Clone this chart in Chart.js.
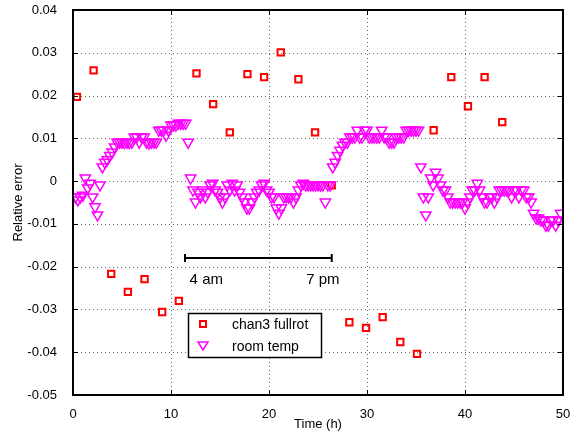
<!DOCTYPE html>
<html>
<head>
<meta charset="utf-8">
<script src="https://cdn.jsdelivr.net/npm/chart.js@4/dist/chart.umd.min.js"></script>
<style>
  html, body { margin: 0; padding: 0; background: #fff; }
  #wrap { width: 571px; height: 434px; }
</style>
</head>
<body>
<div id="wrap"><canvas id="errChart" width="571" height="434"></canvas></div>
<script>
// chan3 fullrot: relative error per run (hours)
const chanTime = [0.4, 2.1, 3.9, 5.6, 7.3, 9.1, 10.8, 12.6, 14.3, 16.0, 17.8, 19.5, 21.2,
    23.0, 24.7, 26.4, 28.2, 29.9, 31.6, 33.4, 35.1, 36.8, 38.6, 40.3, 42.0, 43.8];
const chanErr = [0.0197, 0.0259, -0.0217, -0.0259, -0.0229, -0.0306, -0.0280, 0.0252, 0.0180,
    0.0114, 0.0250, 0.0243, 0.0301, 0.0238, 0.0114, -0.0010, -0.0330, -0.0343, -0.0318,
    -0.0376, -0.0404, 0.0119, 0.0243, 0.0175, 0.0243, 0.0138];

// room temp (scaled)
const roomTime = [
    0.25, 0.5, 0.75, 1.0, 1.25, 1.5, 1.75, 2.0, 2.25, 2.5, 2.75, 3.0, 3.25, 3.5, 3.75, 4.0, 4.25, 4.5, 4.75, 5.0,
    5.25, 5.5, 5.75, 6.0, 6.25, 6.5, 6.75, 7.0, 7.25, 7.5, 7.75, 8.0, 8.25, 8.5, 8.75, 9.0, 9.25, 9.5, 9.75, 10.0,
    10.25, 10.5, 10.75, 11.0, 11.25, 11.5, 11.75, 12.0, 12.25, 12.5, 12.75, 13.0, 13.25, 13.5, 13.75, 14.0, 14.25, 14.5, 14.75, 15.0,
    15.25, 15.5, 15.75, 16.0, 16.25, 16.5, 16.75, 17.0, 17.25, 17.5, 17.75, 18.0, 18.25, 18.5, 18.75, 19.0, 19.25, 19.5, 19.75, 20.0,
    20.25, 20.5, 20.75, 21.0, 21.25, 21.5, 21.75, 22.0, 22.25, 22.5, 22.75, 23.0, 23.25, 23.5, 23.75, 24.0, 24.25, 24.5, 24.75, 25.0,
    25.25, 25.5, 25.75, 26.0, 26.25, 26.5, 26.75, 27.0, 27.25, 27.5, 27.75, 28.0, 28.25, 28.5, 28.75, 29.0, 29.25, 29.5, 29.75, 30.0,
    30.25, 30.5, 30.75, 31.0, 31.25, 31.5, 31.75, 32.0, 32.25, 32.5, 32.75, 33.0, 33.25, 33.5, 33.75, 34.0, 34.25, 34.5, 34.75, 35.0,
    35.25, 35.5, 35.75, 36.0, 36.25, 36.5, 36.75, 37.0, 37.25, 37.5, 37.75, 38.0, 38.25, 38.5, 38.75, 39.0, 39.25, 39.5, 39.75, 40.0,
    40.25, 40.5, 40.75, 41.0, 41.25, 41.5, 41.75, 42.0, 42.25, 42.5, 42.75, 43.0, 43.25, 43.5, 43.75, 44.0, 44.25, 44.5, 44.75, 45.0,
    45.25, 45.5, 45.75, 46.0, 46.25, 46.5, 46.75, 47.0, 47.25, 47.5, 47.75, 48.0, 48.25, 48.5, 48.75, 49.0, 49.25, 49.5, 49.75
];
const roomErr = [
    -0.0037, -0.0044, -0.0037, -0.0033, 0.0007, -0.0016, -0.0005, -0.0037, -0.0060, -0.0079,
    -0.0009, 0.0033, 0.0044, 0.0050, 0.0060, 0.0068, 0.0080, 0.0091, 0.0091, 0.0091,
    0.0090, 0.0091, 0.0090, 0.0091, 0.0103, 0.0103, 0.0091, 0.0103, 0.0103, 0.0091,
    0.0089, 0.0091, 0.0091, 0.0091, 0.0119, 0.0119, 0.0119, 0.0107, 0.0119, 0.0131,
    0.0131, 0.0131, 0.0135, 0.0135, 0.0135, 0.0135, 0.0091, 0.0007, -0.0021, -0.0049,
    -0.0026, -0.0037, -0.0021, -0.0037, -0.0026, -0.0009, -0.0005, -0.0021, -0.0026, -0.0037,
    -0.0049, -0.0037, -0.0009, -0.0021, -0.0005, -0.0021, -0.0009, -0.0026, -0.0037, -0.0049,
    -0.0063, -0.0063, -0.0049, -0.0037, -0.0026, -0.0021, -0.0009, -0.0005, -0.0021, -0.0026,
    -0.0037, -0.0037, -0.0063, -0.0075, -0.0063, -0.0037, -0.0037, -0.0037, -0.0037, -0.0049,
    -0.0037, -0.0021, -0.0009, -0.0005, -0.0009, -0.0009, -0.0009, -0.0009, -0.0009, -0.0009,
    -0.0009, -0.0009, -0.0049, -0.0009, -0.0009, 0.0033, 0.0044, 0.0060, 0.0072, 0.0084,
    0.0091, 0.0091, 0.0103, 0.0103, 0.0103, 0.0119, 0.0103, 0.0103, 0.0119, 0.0119,
    0.0103, 0.0103, 0.0103, 0.0103, 0.0103, 0.0119, 0.0103, 0.0103, 0.0091, 0.0091,
    0.0091, 0.0103, 0.0103, 0.0103, 0.0103, 0.0119, 0.0119, 0.0119, 0.0119, 0.0119,
    0.0119, 0.0033, -0.0037, -0.0079, -0.0037, 0.0007, -0.0009, 0.0021, 0.0007, -0.0009,
    -0.0021, -0.0021, -0.0037, -0.0049, -0.0049, -0.0049, -0.0049, -0.0049, -0.0049, -0.0063,
    -0.0049, -0.0037, -0.0021, -0.0021, -0.0005, -0.0021, -0.0037, -0.0049, -0.0049, -0.0037,
    -0.0037, -0.0049, -0.0037, -0.0021, -0.0021, -0.0021, -0.0021, -0.0021, -0.0037, -0.0021,
    -0.0021, -0.0037, -0.0021, -0.0021, -0.0037, -0.0037, -0.0049, -0.0075, -0.0086, -0.0086,
    -0.0091, -0.0091, -0.0103, -0.0103, -0.0091, -0.0091, -0.0103, -0.0091, -0.0075
];

const seriesNames = ['chan3 fullrot', 'room temp'];
const xLabel = 'Time (h)';
const yLabel = 'Relative error';

// the day marker bar: 4 am .. 7 pm
const dayBar = { from: 11.43, to: 26.4, level: -0.018 };
const dayTexts = [
    { text: '4 am', x: 11.9, y: -0.0232 },
    { text: '7 pm', x: 23.8, y: -0.0232 }
];

const FONT = '"Liberation Sans", Arial, Helvetica, sans-serif';
const RED = '#ff0000';
const MAGENTA = '#ff00ff';

function toPoints(xs, ys) {
    return xs.map((x, i) => ({ x: x, y: ys[i] }));
}

// dotted grid under the markers
const dottedGrid = {
    id: 'dottedGrid',
    beforeDatasetsDraw(chart) {
        const c = chart.ctx;
        const a = chart.chartArea;
        const xs = chart.scales.x;
        const ys = chart.scales.y;
        c.save();
        c.strokeStyle = 'rgba(0,0,0,0.6)';
        c.lineWidth = 1;
        c.setLineDash([1, 3]);
        xs.ticks.forEach(t => {
            const px = Math.round(xs.getPixelForValue(t.value)) + 0.5;
            c.beginPath(); c.moveTo(px, a.bottom); c.lineTo(px, a.top); c.stroke();
        });
        ys.ticks.forEach(t => {
            const py = Math.round(ys.getPixelForValue(t.value)) + 0.5;
            c.beginPath(); c.moveTo(a.left, py); c.lineTo(a.right, py); c.stroke();
        });
        c.restore();
    }
};

// box, inward ticks, axis titles, the 4am/7pm bar and the legend
const matlabLook = {
    id: 'matlabLook',
    afterDraw(chart) {
        const c = chart.ctx;
        const a = chart.chartArea;
        const xs = chart.scales.x;
        const ys = chart.scales.y;
        c.save();

        c.strokeStyle = '#000';
        c.lineWidth = 1;
        xs.ticks.forEach(t => {
            const px = Math.round(xs.getPixelForValue(t.value)) + 0.5;
            c.beginPath();
            c.moveTo(px, a.bottom); c.lineTo(px, a.bottom - 5);
            c.moveTo(px, a.top); c.lineTo(px, a.top + 5);
            c.stroke();
        });
        ys.ticks.forEach(t => {
            const py = Math.round(ys.getPixelForValue(t.value)) + 0.5;
            c.beginPath();
            c.moveTo(a.left, py); c.lineTo(a.left + 5, py);
            c.moveTo(a.right, py); c.lineTo(a.right - 5, py);
            c.stroke();
        });

        c.lineWidth = 2;
        c.strokeRect(a.left, a.top, a.right - a.left, a.bottom - a.top);

        // day bar
        const bx1 = xs.getPixelForValue(dayBar.from);
        const bx2 = xs.getPixelForValue(dayBar.to);
        const by = Math.round(ys.getPixelForValue(dayBar.level));
        c.lineWidth = 2;
        c.beginPath();
        c.moveTo(bx1, by); c.lineTo(bx2, by);
        c.moveTo(bx1, by - 4); c.lineTo(bx1, by + 4);
        c.moveTo(bx2, by - 4); c.lineTo(bx2, by + 4);
        c.stroke();

        c.fillStyle = '#000';
        c.font = '15px ' + FONT;
        c.textAlign = 'left';
        c.textBaseline = 'middle';
        dayTexts.forEach(d => {
            c.fillText(d.text, xs.getPixelForValue(d.x), ys.getPixelForValue(d.y));
        });

        // axis titles
        c.font = '13px ' + FONT;
        c.textAlign = 'center';
        c.textBaseline = 'middle';
        c.fillText(xLabel, (a.left + a.right) / 2, 424);
        c.save();
        c.translate(18, (a.top + a.bottom) / 2);
        c.rotate(-Math.PI / 2);
        c.fillText(yLabel, 0, 0);
        c.restore();

        // legend
        const lx = 188, ly = 313, lw = 133, lh = 44;
        c.fillStyle = '#fff';
        c.fillRect(lx, ly, lw, lh);
        c.lineWidth = 1.5;
        c.strokeStyle = '#000';
        c.strokeRect(lx + 0.5, ly + 0.5, lw, lh);

        c.strokeStyle = RED;
        c.lineWidth = 2;
        c.strokeRect(200, 321, 6, 6);

        c.strokeStyle = MAGENTA;
        c.lineWidth = 1.5;
        c.beginPath();
        c.moveTo(198, 342); c.lineTo(208, 342); c.lineTo(203, 350); c.closePath();
        c.stroke();

        c.fillStyle = '#000';
        c.font = '14px ' + FONT;
        c.textAlign = 'left';
        c.fillText(seriesNames[0], 232, 325);
        c.fillText(seriesNames[1], 232, 347);

        c.restore();
    }
};

const ctx = document.getElementById('errChart').getContext('2d');

new Chart(ctx, {
    type: 'scatter',
    data: {
        datasets: [{
            label: seriesNames[0],
            data: toPoints(chanTime, chanErr),
            pointStyle: 'rect',
            pointRadius: 4.5,
            borderColor: RED,
            backgroundColor: 'rgba(0,0,0,0)',
            borderWidth: 2,
            order: 1
        }, {
            label: seriesNames[1],
            data: toPoints(roomTime, roomErr),
            pointStyle: 'triangle',
            rotation: 180,
            pointRadius: 6,
            borderColor: MAGENTA,
            backgroundColor: 'rgba(0,0,0,0)',
            borderWidth: 1.5,
            order: 0
        }]
    },
    options: {
        responsive: false,
        animation: false,
        layout: {
            padding: { top: 10, right: 8, left: 0, bottom: 0 }
        },
        plugins: {
            legend: { display: false },
            tooltip: { enabled: false }
        },
        scales: {
            x: {
                type: 'linear',
                min: 0,
                max: 50,
                afterFit: scale => {
                    scale.height = 39;
                    scale.paddingLeft = 0;
                    scale.paddingRight = 0;
                },
                ticks: {
                    stepSize: 10,
                    color: '#000',
                    padding: 4,
                    font: { family: FONT, size: 13 }
                },
                grid: { display: false },
                border: { display: false }
            },
            y: {
                min: -0.05,
                max: 0.04,
                afterFit: scale => {
                    scale.width = 73;
                    scale.paddingTop = 0;
                    scale.paddingBottom = 0;
                },
                ticks: {
                    stepSize: 0.01,
                    color: '#000',
                    padding: 8,
                    font: { family: FONT, size: 13 },
                    callback: v => Math.abs(v) < 1e-9 ? '0' : v.toFixed(2)
                },
                grid: { display: false },
                border: { display: false }
            }
        }
    },
    plugins: [dottedGrid, matlabLook]
});
</script>
</body>
</html>
